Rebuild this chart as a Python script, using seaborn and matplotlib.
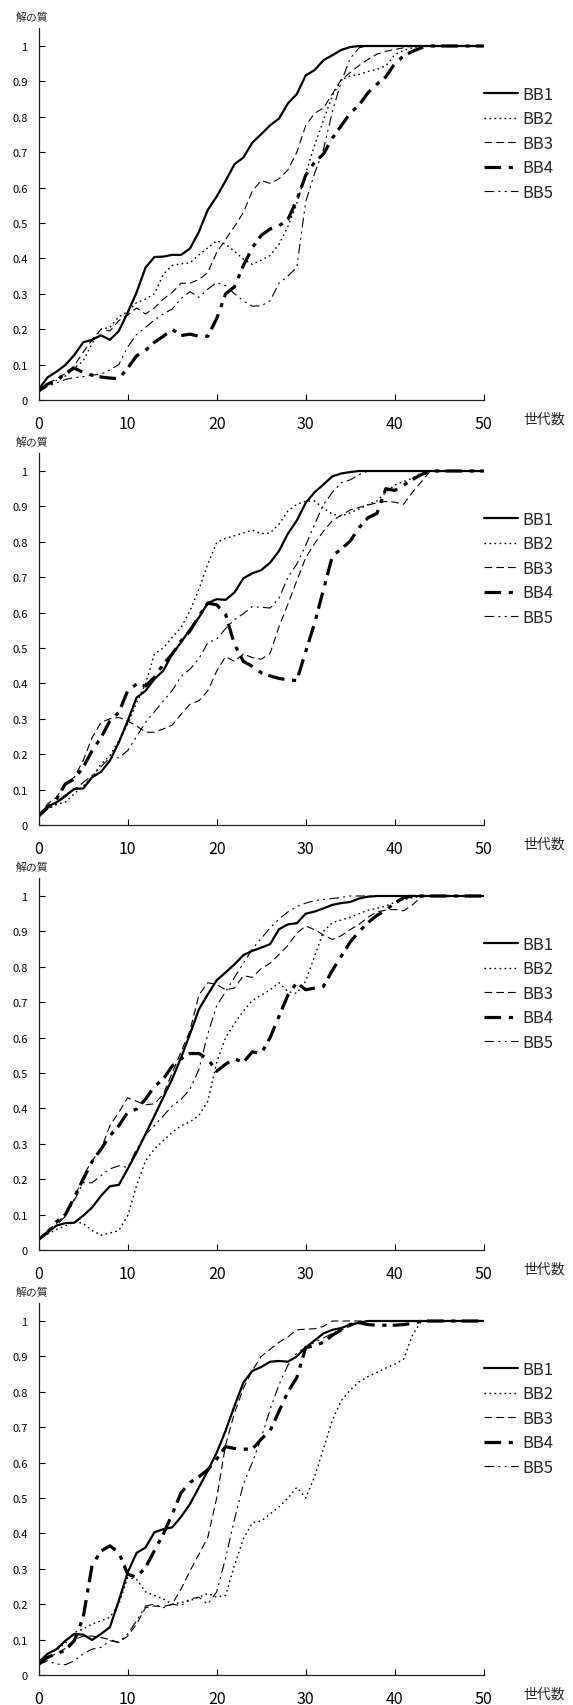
import matplotlib
matplotlib.use("Agg")
import matplotlib.pyplot as plt
import seaborn as sns

# ---------------- data ----------------
generations = list(range(51))
series_names = ["BB1", "BB2", "BB3", "BB4", "BB5"]
x_ticks = [0, 10, 20, 30, 40, 50]
y_ticks = [0, 0.1, 0.2, 0.3, 0.4, 0.5, 0.6, 0.7, 0.8, 0.9, 1.0]
y_tick_labels = ["0", "0.1", "0.2", "0.3", "0.4", "0.5", "0.6", "0.7", "0.8", "0.9", "1"]
y_label = "解の質"
x_label = "世代数"

# panel 1
p1_bb1 = [0.03, 0.064, 0.08, 0.099, 0.127, 0.163, 0.17, 0.183, 0.17, 0.195,
          0.247, 0.304, 0.374, 0.404, 0.405, 0.41, 0.41, 0.428, 0.475, 0.537,
          0.575, 0.619, 0.666, 0.685, 0.727, 0.751, 0.776, 0.795, 0.838, 0.864,
          0.917, 0.932, 0.96, 0.974, 0.989, 0.997, 1, 1, 1, 1,
          1, 1, 1, 1, 1, 1, 1, 1, 1, 1, 1]
p1_bb2 = [0.025, 0.045, 0.055, 0.068, 0.09, 0.11, 0.16, 0.2, 0.205, 0.235,
          0.25, 0.275, 0.285, 0.3, 0.355, 0.38, 0.385, 0.387, 0.41, 0.43,
          0.45, 0.44, 0.42, 0.398, 0.383, 0.395, 0.408, 0.44, 0.49, 0.555,
          0.64, 0.72, 0.79, 0.86, 0.905, 0.915, 0.92, 0.928, 0.934, 0.944,
          0.975, 0.988, 0.995, 1, 1, 1, 1, 1, 1, 1, 1]
p1_bb3 = [0.025, 0.045, 0.06, 0.075, 0.097, 0.135, 0.17, 0.2, 0.195, 0.224,
          0.24, 0.26, 0.243, 0.26, 0.285, 0.304, 0.33, 0.33, 0.34, 0.36,
          0.417, 0.454, 0.49, 0.53, 0.59, 0.62, 0.612, 0.625, 0.65, 0.7,
          0.775, 0.81, 0.825, 0.865, 0.905, 0.925, 0.945, 0.962, 0.977, 0.985,
          0.99, 0.995, 1, 1, 1, 1, 1, 1, 1, 1, 1]
p1_bb4 = [0.025, 0.045, 0.055, 0.075, 0.09, 0.078, 0.07, 0.065, 0.062, 0.06,
          0.09, 0.125, 0.14, 0.163, 0.18, 0.2, 0.182, 0.186, 0.18, 0.18,
          0.23, 0.3, 0.32, 0.38, 0.43, 0.465, 0.483, 0.492, 0.51, 0.565,
          0.635, 0.672, 0.695, 0.74, 0.775, 0.81, 0.833, 0.868, 0.892, 0.913,
          0.95, 0.972, 0.985, 0.995, 1, 1, 1, 1, 1, 1, 1]
p1_bb5 = [0.025, 0.038, 0.048, 0.058, 0.063, 0.066, 0.07, 0.073, 0.085, 0.1,
          0.15, 0.185, 0.205, 0.226, 0.243, 0.257, 0.287, 0.306, 0.29, 0.313,
          0.332, 0.323, 0.3, 0.28, 0.265, 0.266, 0.28, 0.33, 0.35, 0.375,
          0.56, 0.64, 0.708, 0.815, 0.9, 0.965, 0.995, 1, 1, 1,
          1, 1, 1, 1, 1, 1, 1, 1, 1, 1, 1]

# panel 2
p2_bb1 = [0.029, 0.052, 0.064, 0.083, 0.102, 0.103, 0.135, 0.15, 0.182, 0.233,
          0.294, 0.36, 0.379, 0.412, 0.436, 0.483, 0.516, 0.553, 0.586, 0.627,
          0.638, 0.636, 0.657, 0.697, 0.711, 0.72, 0.741, 0.774, 0.823, 0.86,
          0.91, 0.94, 0.962, 0.985, 0.993, 0.997, 1, 1, 1, 1,
          1, 1, 1, 1, 1, 1, 1, 1, 1, 1, 1]
p2_bb2 = [0.025, 0.045, 0.058, 0.065, 0.088, 0.11, 0.135, 0.172, 0.196, 0.238,
          0.285, 0.346, 0.398, 0.483, 0.5, 0.53, 0.558, 0.605, 0.666, 0.737,
          0.798, 0.81, 0.817, 0.825, 0.833, 0.823, 0.825, 0.85, 0.887, 0.906,
          0.915, 0.915, 0.895, 0.878, 0.873, 0.882, 0.893, 0.905, 0.915, 0.94,
          0.96, 0.97, 0.98, 0.995, 1, 1, 1, 1, 1, 1, 1]
p2_bb3 = [0.025, 0.06, 0.078, 0.116, 0.135, 0.182, 0.247, 0.29, 0.3, 0.304,
          0.294, 0.28, 0.262, 0.262, 0.271, 0.282, 0.313, 0.341, 0.351, 0.379,
          0.435, 0.476, 0.462, 0.483, 0.473, 0.468, 0.485, 0.56, 0.624, 0.69,
          0.755, 0.795, 0.83, 0.86, 0.875, 0.89, 0.897, 0.904, 0.91, 0.914,
          0.912, 0.906, 0.94, 0.97, 1, 1, 1, 1, 1, 1, 1]
p2_bb4 = [0.025, 0.05, 0.073, 0.116, 0.13, 0.163, 0.21, 0.247, 0.294, 0.318,
          0.379, 0.398, 0.393, 0.417, 0.454, 0.483, 0.52, 0.548, 0.59, 0.627,
          0.622, 0.595, 0.51, 0.462, 0.448, 0.43, 0.421, 0.414, 0.41, 0.408,
          0.49, 0.57, 0.665, 0.76, 0.78, 0.802, 0.84, 0.868, 0.88, 0.95,
          0.945, 0.96, 0.976, 0.99, 1, 1, 1, 1, 1, 1, 1]
p2_bb5 = [0.025, 0.045, 0.06, 0.08, 0.1, 0.12, 0.14, 0.165, 0.19, 0.19,
          0.21, 0.25, 0.29, 0.32, 0.35, 0.38, 0.42, 0.44, 0.47, 0.515,
          0.525, 0.555, 0.58, 0.597, 0.617, 0.615, 0.613, 0.64, 0.7, 0.737,
          0.79, 0.85, 0.905, 0.94, 0.967, 0.975, 0.99, 1, 1, 1,
          1, 1, 1, 1, 1, 1, 1, 1, 1, 1, 1]

# panel 3
p3_bb1 = [0.031, 0.05, 0.069, 0.076, 0.077, 0.097, 0.12, 0.153, 0.18, 0.184,
          0.229, 0.276, 0.327, 0.379, 0.431, 0.483, 0.544, 0.61, 0.68, 0.722,
          0.762, 0.784, 0.807, 0.833, 0.845, 0.854, 0.864, 0.906, 0.92, 0.923,
          0.95, 0.956, 0.965, 0.975, 0.98, 0.983, 0.993, 0.998, 1, 1,
          1, 1, 1, 1, 1, 1, 1, 1, 1, 1, 1]
p3_bb2 = [0.03, 0.045, 0.058, 0.068, 0.08, 0.075, 0.055, 0.042, 0.048, 0.055,
          0.097, 0.182, 0.252, 0.285, 0.309, 0.332, 0.351, 0.362, 0.38, 0.42,
          0.53, 0.6, 0.64, 0.675, 0.705, 0.72, 0.735, 0.755, 0.73, 0.725,
          0.76, 0.83, 0.9, 0.925, 0.932, 0.94, 0.95, 0.96, 0.965, 0.972,
          0.982, 0.99, 0.995, 1, 1, 1, 1, 1, 1, 1, 1]
p3_bb3 = [0.03, 0.055, 0.075, 0.1, 0.144, 0.21, 0.252, 0.285, 0.351, 0.389,
          0.43, 0.42, 0.41, 0.413, 0.44, 0.5, 0.56, 0.62, 0.72, 0.755,
          0.75, 0.735, 0.74, 0.775, 0.77, 0.795, 0.81, 0.835, 0.86, 0.895,
          0.915, 0.905, 0.89, 0.877, 0.888, 0.905, 0.92, 0.94, 0.955, 0.96,
          0.962, 0.958, 0.975, 0.998, 1, 1, 1, 1, 1, 1, 1]
p3_bb4 = [0.03, 0.05, 0.08, 0.1, 0.149, 0.2, 0.25, 0.285, 0.323, 0.351,
          0.389, 0.398, 0.426, 0.462, 0.483, 0.52, 0.54, 0.555, 0.555, 0.54,
          0.505, 0.525, 0.54, 0.53, 0.56, 0.555, 0.6, 0.66, 0.72, 0.755,
          0.735, 0.74, 0.745, 0.79, 0.83, 0.87, 0.9, 0.925, 0.945, 0.96,
          0.98, 0.995, 1, 1, 1, 1, 1, 1, 1, 1, 1]
p3_bb5 = [0.03, 0.05, 0.07, 0.095, 0.14, 0.19, 0.19, 0.21, 0.229, 0.238,
          0.233, 0.285, 0.327, 0.351, 0.379, 0.407, 0.426, 0.454, 0.51, 0.61,
          0.69, 0.73, 0.77, 0.81, 0.85, 0.88, 0.91, 0.935, 0.955, 0.97,
          0.98, 0.987, 0.99, 0.993, 0.996, 1, 1, 1, 1, 1,
          1, 1, 1, 1, 1, 1, 1, 1, 1, 1, 1]

# panel 4
p4_bb1 = [0.036, 0.06, 0.073, 0.097, 0.116, 0.114, 0.099, 0.116, 0.135, 0.21,
          0.29, 0.345, 0.36, 0.403, 0.412, 0.417, 0.447, 0.483, 0.53, 0.577,
          0.628, 0.69, 0.76, 0.826, 0.859, 0.87, 0.885, 0.887, 0.885, 0.9,
          0.925, 0.945, 0.965, 0.975, 0.98, 0.99, 0.995, 1, 1, 1,
          1, 1, 1, 1, 1, 1, 1, 1, 1, 1, 1]
p4_bb2 = [0.03, 0.06, 0.07, 0.09, 0.12, 0.13, 0.144, 0.153, 0.163, 0.2,
          0.275, 0.27, 0.235, 0.225, 0.215, 0.2, 0.205, 0.21, 0.22, 0.23,
          0.22, 0.225, 0.31, 0.385, 0.43, 0.435, 0.455, 0.475, 0.5, 0.53,
          0.5, 0.56, 0.64, 0.72, 0.775, 0.805, 0.828, 0.843, 0.855, 0.867,
          0.878, 0.892, 0.96, 1, 1, 1, 1, 1, 1, 1, 1]
p4_bb3 = [0.03, 0.05, 0.06, 0.075, 0.1, 0.11, 0.11, 0.106, 0.1, 0.092,
          0.11, 0.144, 0.19, 0.195, 0.193, 0.2, 0.243, 0.294, 0.341, 0.389,
          0.5, 0.65, 0.74, 0.81, 0.86, 0.9, 0.92, 0.94, 0.955, 0.975,
          0.977, 0.978, 0.985, 1, 1, 1, 1, 1, 1, 1,
          1, 1, 1, 1, 1, 1, 1, 1, 1, 1, 1]
p4_bb4 = [0.03, 0.05, 0.06, 0.07, 0.097, 0.163, 0.31, 0.35, 0.365, 0.346,
          0.285, 0.276, 0.304, 0.351, 0.398, 0.454, 0.515, 0.544, 0.56, 0.58,
          0.61, 0.645, 0.64, 0.638, 0.638, 0.666, 0.69, 0.745, 0.8, 0.84,
          0.925, 0.93, 0.94, 0.96, 0.975, 0.99, 0.995, 0.99, 0.988, 0.988,
          0.988, 0.99, 0.993, 1, 1, 1, 1, 1, 1, 1, 1]
p4_bb5 = [0.03, 0.04, 0.031, 0.029, 0.04, 0.06, 0.073, 0.078, 0.097, 0.092,
          0.116, 0.153, 0.195, 0.2, 0.19, 0.2, 0.196, 0.215, 0.22, 0.2,
          0.235, 0.33, 0.44, 0.54, 0.6, 0.67, 0.75, 0.82, 0.875, 0.91,
          0.925, 0.94, 0.952, 0.965, 0.975, 0.985, 0.995, 1, 1, 1,
          1, 1, 1, 1, 1, 1, 1, 1, 1, 1, 1]

panels = [
    [p1_bb1, p1_bb2, p1_bb3, p1_bb4, p1_bb5],
    [p2_bb1, p2_bb2, p2_bb3, p2_bb4, p2_bb5],
    [p3_bb1, p3_bb2, p3_bb3, p3_bb4, p3_bb5],
    [p4_bb1, p4_bb2, p4_bb3, p4_bb4, p4_bb5],
]

# ---------------- style ----------------
sns.set_theme(style="white")
fonts = ["Noto Sans CJK JP", "DejaVu Sans"]
plt.rcParams["font.family"] = fonts
plt.rcParams["lines.scale_dashes"] = False

line_styles = {
    "BB1": dict(linewidth=1.6, linestyle="-"),
    "BB2": dict(linewidth=1.0, linestyle=(0, (1.2, 2.4))),
    "BB3": dict(linewidth=0.8, linestyle=(0, (5.5, 3.0))),
    "BB4": dict(linewidth=2.3, linestyle=(0, (12.0, 5.5, 3.0, 4.5))),
    "BB5": dict(linewidth=0.8, linestyle=(0, (7.0, 3.0, 1.5, 3.0, 1.5, 3.0))),
}

W, H = 573, 1706
fig = plt.figure(figsize=(W / 100, H / 100), dpi=100)

ax_left_px, ax_right_px = 38.7, 483.7
panel_step = 425
for k, series in enumerate(panels):
    top_px = 29.3 + panel_step * k
    bot_px = 401.0 + panel_step * k
    ax = fig.add_axes([ax_left_px / W, 1 - bot_px / H,
                       (ax_right_px - ax_left_px) / W, (bot_px - top_px) / H])
    for name, vals in zip(series_names, series):
        sns.lineplot(x=generations, y=vals, ax=ax, color="black",
                     label=name, estimator=None, **line_styles[name])
    ax.set_xlim(0, 50)
    ax.set_ylim(0, 1.05)
    ax.set_xticks(x_ticks)
    ax.set_xticklabels([str(t) for t in x_ticks])
    ax.set_yticks(y_ticks)
    ax.set_yticklabels(y_tick_labels)
    for s in ["top", "right"]:
        ax.spines[s].set_visible(False)
    for s in ["left", "bottom"]:
        ax.spines[s].set_color("#222222")
        ax.spines[s].set_linewidth(0.9)
    ax.tick_params(axis="x", direction="in", length=4, width=0.8, pad=11,
                   labelsize=11.5, colors="black", bottom=True)
    ax.tick_params(axis="y", direction="in", length=4, width=0.8, pad=8,
                   labelsize=8, colors="black", left=True)
    ax.set_xlabel("")
    ax.set_ylabel("")
    ax.grid(False)
    ax.text(-0.015, 1.03, y_label, transform=ax.transAxes, ha="center",
            va="center", fontsize=7.8, family=fonts)
    ax.text(1.1355, -0.051, x_label, transform=ax.transAxes, ha="center",
            va="center", fontsize=10, family=fonts)
    ax.legend(loc="upper left", bbox_to_anchor=(1.0, 0.845), frameon=False,
              borderpad=0, borderaxespad=0, handlelength=2.05,
              handletextpad=0.3, labelspacing=0.45, fontsize=12)

fig.savefig("out.png", dpi=100)
